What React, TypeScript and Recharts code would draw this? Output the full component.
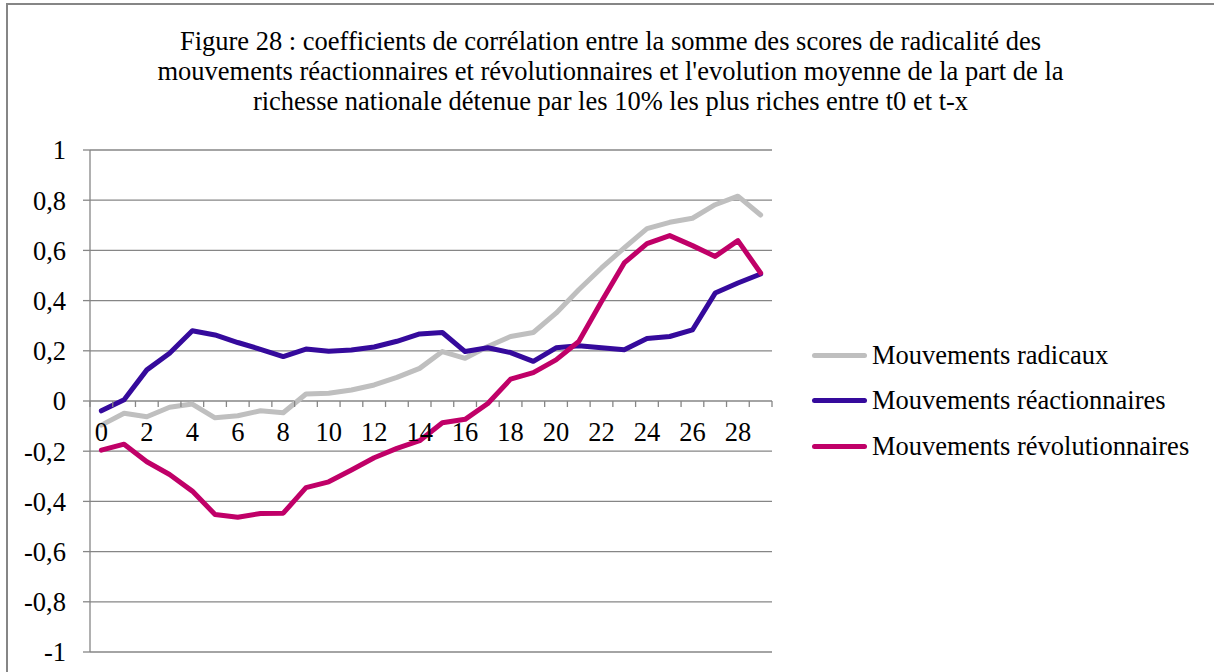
import React from 'react';
import { LineChart, Line, XAxis, YAxis, CartesianGrid } from 'recharts';

const categories = [0, 1, 2, 3, 4, 5, 6, 7, 8, 9, 10, 11, 12, 13, 14, 15, 16, 17, 18, 19, 20, 21, 22, 23, 24, 25, 26, 27, 28, 29];
const xLabels = [0, 2, 4, 6, 8, 10, 12, 14, 16, 18, 20, 22, 24, 26, 28];
const yTicks = [-1, -0.8, -0.6, -0.4, -0.2, 0, 0.2, 0.4, 0.6, 0.8, 1];

const radicaux = [-0.096, -0.049, -0.063, -0.025, -0.012, -0.067, -0.059, -0.039, -0.047, 0.028, 0.031, 0.044, 0.064, 0.094, 0.13, 0.197, 0.17, 0.217, 0.257, 0.273, 0.35, 0.443, 0.53, 0.61, 0.687, 0.712, 0.728, 0.782, 0.816, 0.741];
const reactionnaires = [-0.039, 0.005, 0.124, 0.19, 0.28, 0.263, 0.233, 0.206, 0.177, 0.207, 0.198, 0.203, 0.215, 0.238, 0.267, 0.273, 0.197, 0.212, 0.193, 0.158, 0.212, 0.22, 0.212, 0.204, 0.249, 0.257, 0.283, 0.43, 0.47, 0.506];
const revolutionnaires = [-0.196, -0.172, -0.242, -0.293, -0.359, -0.452, -0.463, -0.448, -0.447, -0.345, -0.322, -0.275, -0.226, -0.189, -0.158, -0.087, -0.073, -0.01, 0.087, 0.113, 0.164, 0.237, 0.396, 0.55, 0.627, 0.659, 0.619, 0.576, 0.639, 0.51];

const series = [
  { key: 'radicaux', name: 'Mouvements radicaux', color: '#BFBFBF' },
  { key: 'reactionnaires', name: 'Mouvements réactionnaires', color: '#350A9C' },
  { key: 'revolutionnaires', name: 'Mouvements révolutionnaires', color: '#C00068' },
];

const titleLines = [
  'Figure 28 : coefficients de corrélation entre la somme des scores de radicalité des',
  "mouvements réactionnaires et révolutionnaires et l'evolution moyenne de la part de la",
  'richesse nationale détenue par les 10% les plus riches entre t0 et t-x',
];

const data = categories.map((c, i) => ({
  x: c,
  radicaux: radicaux[i],
  reactionnaires: reactionnaires[i],
  revolutionnaires: revolutionnaires[i],
}));

// tick marks sit on category boundaries, labels on even categories
const xTicks: number[] = [];
categories.forEach(c => {
  xTicks.push(c - 0.5);
  xTicks.push(c);
});
xTicks.push(categories[categories.length - 1] + 0.5);

const FONT = '"Liberation Serif", "Times New Roman", serif';
const FS = 26.5;
const AXIS = '#868686';
const PLOT_TOP = 150;
const PLOT_H = 502;
const ZERO_Y = PLOT_TOP + PLOT_H / 2;

const fmt = (v: number) => String(Math.round(v * 10) / 10).replace('.', ',');

const XTick = (props: any) => {
  const { x, payload } = props;
  const v = payload.value;
  if (!Number.isInteger(v)) {
    return <line x1={x} x2={x} y1={ZERO_Y} y2={ZERO_Y + 6} stroke={AXIS} strokeWidth={1.3} />;
  }
  if (!xLabels.includes(v)) return null;
  return (
    <text x={x} y={ZERO_Y + 40} textAnchor="middle" fontFamily={FONT} fontSize={FS} fill="#000">
      {v}
    </text>
  );
};

export default function App() {
  return (
    <div style={{ position: 'absolute', left: 0, top: 0, width: 1214, height: 672, background: '#fff', overflow: 'hidden', fontFamily: FONT }}>
      <div style={{ position: 'absolute', left: 6, top: 3, width: 1300, height: 800, border: `2px solid ${AXIS}` }} />
      <div style={{ position: 'absolute', left: 7, top: 26, width: 1207, textAlign: 'center', fontSize: FS, lineHeight: '30px', color: '#000', whiteSpace: 'nowrap' }}>
        {titleLines.map(t => <div key={t}>{t}</div>)}
      </div>
      <div style={{ position: 'absolute', left: 0, top: 0 }}>
        <LineChart width={1214} height={672} data={data} margin={{ top: PLOT_TOP, right: 442, bottom: 0, left: 0 }}>
          <CartesianGrid vertical={false} stroke={AXIS} strokeWidth={1.3} />
          <XAxis
            dataKey="x"
            type="number"
            domain={[-0.5, 29.5]}
            ticks={xTicks}
            interval={0}
            axisLine={false}
            tickLine={false}
            height={20}
            tick={<XTick />}
          />
          <YAxis
            type="number"
            domain={[-1, 1]}
            ticks={yTicks}
            interval={0}
            width={90}
            tickSize={7}
            tickMargin={17}
            tickFormatter={fmt}
            axisLine={{ stroke: AXIS, strokeWidth: 1.3 }}
            tickLine={{ stroke: AXIS, strokeWidth: 1.3 }}
            tick={{ fill: '#000', fontSize: FS, fontFamily: FONT }}
          />
          {series.map(s => (
            <Line
              key={s.key}
              dataKey={s.key}
              name={s.name}
              type="linear"
              stroke={s.color}
              strokeWidth={5}
              strokeLinejoin="round"
              strokeLinecap="round"
              dot={false}
              activeDot={false}
              isAnimationActive={false}
            />
          ))}
        </LineChart>
      </div>
      {series.map((s, i) => (
        <div key={s.key} style={{ position: 'absolute', left: 812, top: 340 + i * 45.5, height: 30, display: 'flex', alignItems: 'center', fontSize: FS, whiteSpace: 'nowrap', color: '#000' }}>
          <div style={{ width: 55, height: 5, borderRadius: 3, background: s.color, marginRight: 5 }} />
          <span>{s.name}</span>
        </div>
      ))}
    </div>
  );
}
